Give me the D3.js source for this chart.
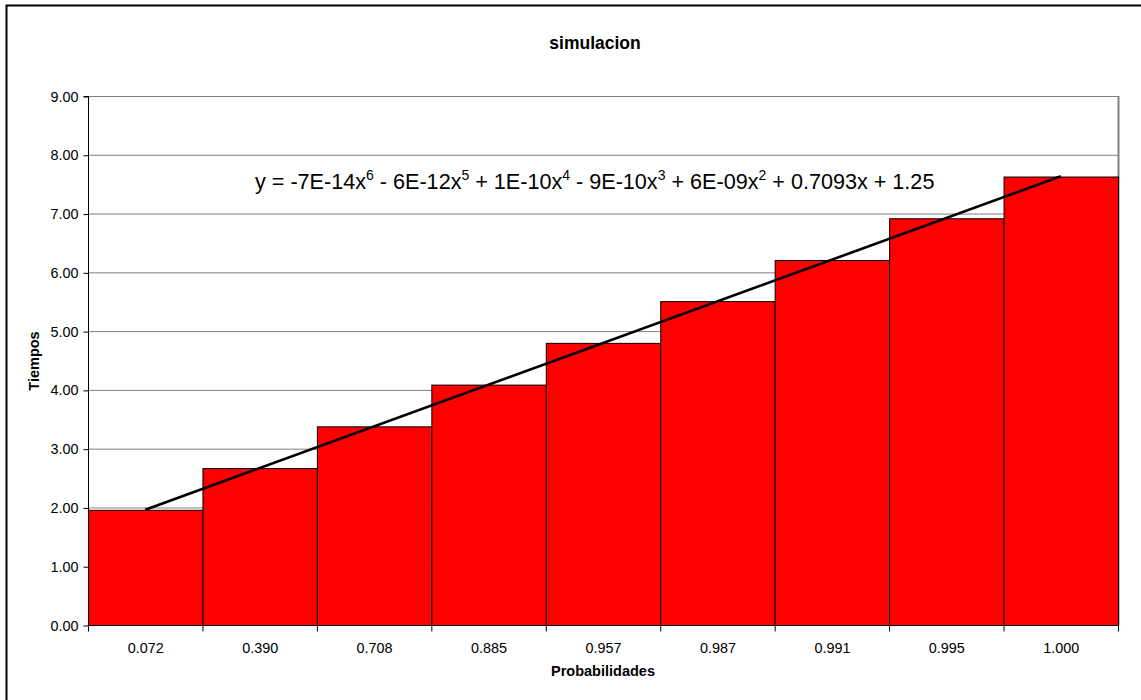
<!DOCTYPE html>
<html><head><meta charset="utf-8">
<script src="https://cdn.jsdelivr.net/npm/d3@7"></script>
<style>body{margin:0;background:#fff}svg{display:block}text{font-family:"Liberation Sans",Arial,sans-serif}</style>
</head><body>
<svg id="c" width="1141" height="700"></svg>
<script>
const categories = ["0.072","0.390","0.708","0.885","0.957","0.987","0.991","0.995","1.000"];
const tiempos = [1.96, 2.67, 3.38, 4.09, 4.80, 5.51, 6.21, 6.92, 7.63];
const yTicks = [0,1,2,3,4,5,6,7,8,9];
const trendSlope = 0.7093, trendIntercept = 1.25;
const equationParts = [["y = -7E-14x",""],["6",true],[" - 6E-12x",""],["5",true],[" + 1E-10x",""],["4",true],[" - 9E-10x",""],["3",true],[" + 6E-09x",""],["2",true],[" + 0.7093x + 1.25",""]];

const svg = d3.select("#c");
const L=88, R=1118, T=96, B=625;
svg.append("rect").attr("x",6.5).attr("y",5.5).attr("width",1160).attr("height",720).attr("fill","#fff").attr("stroke","#000").attr("stroke-width",2);

const x = d3.scaleBand().domain(categories).range([L,R]).padding(0);
const y = d3.scaleLinear().domain([0,9]).range([B,T]);

// gridlines
svg.append("g").selectAll("line").data(yTicks.filter(d=>d>0)).join("line")
  .attr("x1",L).attr("x2",R).attr("y1",d=>y(d)+0.5).attr("y2",d=>y(d)+0.5)
  .attr("stroke","#808080").attr("stroke-width",1);
svg.append("line").attr("x1",R+0.5).attr("x2",R+0.5).attr("y1",T).attr("y2",B).attr("stroke","#808080").attr("stroke-width",2);

// bars
svg.append("g").selectAll("rect").data(tiempos).join("rect")
  .attr("x",(d,i)=>x(categories[i])+0.5).attr("y",d=>y(d)+0.5)
  .attr("width",x.bandwidth()).attr("height",d=>B-y(d))
  .attr("fill","#ff0000").attr("stroke","#000").attr("stroke-width",1);

// axes
const ya = d3.axisLeft(y).tickValues(yTicks).tickFormat(d3.format(".2f")).tickSize(5).tickPadding(4);
const gy = svg.append("g").attr("transform",`translate(${L+0.5},0.5)`).call(ya);
gy.select(".domain").attr("d",`M-5,${T}H0V${B}`);
gy.selectAll("text").attr("font-size",14.4).attr("fill","#000").attr("dx",-1);

const gx = svg.append("g").attr("transform",`translate(0.5,${B+0.5})`);
gx.append("line").attr("x1",L).attr("x2",R).attr("stroke","#000");
const bounds = categories.map(c=>x(c)).concat([R]);
gx.selectAll("line.t").data(bounds).join("line").attr("class","t")
  .attr("x1",d=>d).attr("x2",d=>d).attr("y1",0).attr("y2",6).attr("stroke","#000");
gx.selectAll("text").data(categories).join("text")
  .attr("x",d=>x(d)+x.bandwidth()/2).attr("y",27).attr("text-anchor","middle")
  .attr("font-size",14.4).text(d=>d);

// trendline
const line = d3.line().x(d=>x(categories[d])+x.bandwidth()/2).y(d=>y(trendSlope*(d+1)+trendIntercept));
svg.append("path").attr("d",line([0,categories.length-1])).attr("fill","none").attr("stroke","#000").attr("stroke-width",2.6);

// equation
const eq = svg.append("text").attr("x",255).attr("y",189).attr("font-size",21.6);
equationParts.forEach(p=>{
  if(p[1]===true) eq.append("tspan").attr("dy",-9).attr("font-size",14).text(p[0]);
  else { const t=eq.append("tspan").text(p[0]); if(eq.selectAll("tspan").size()>1) t.attr("dy",9); }
});

// titles
svg.append("text").attr("x",595).attr("y",49).attr("text-anchor","middle").attr("font-size",17.5).attr("font-weight","bold").text("simulacion");
svg.append("text").attr("x",603).attr("y",676).attr("text-anchor","middle").attr("font-size",14.5).attr("font-weight","bold").text("Probabilidades");
svg.append("text").attr("transform","translate(39,361) rotate(-90)").attr("text-anchor","middle").attr("font-size",14.5).attr("font-weight","bold").text("Tiempos");
</script>
</body></html>
